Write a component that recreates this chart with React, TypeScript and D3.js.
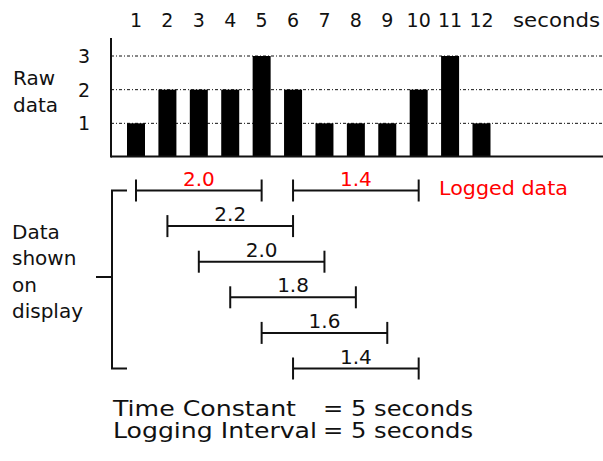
import React from 'react';
import * as d3 from 'd3';

const seconds = [1, 2, 3, 4, 5, 6, 7, 8, 9, 10, 11, 12];
const rawValues = [1, 2, 2, 2, 3, 2, 1, 1, 1, 2, 3, 1];
const yTicks = [1, 2, 3];
const loggedIntervals = [
  { start: 1, end: 5, label: '2.0' },
  { start: 6, end: 10, label: '1.4' },
];
const displayIntervals = [
  { start: 2, end: 6, label: '2.2' },
  { start: 3, end: 7, label: '2.0' },
  { start: 4, end: 8, label: '1.8' },
  { start: 5, end: 9, label: '1.6' },
  { start: 6, end: 10, label: '1.4' },
];
const unitLabel = 'seconds';
const rawLabel = ['Raw', 'data'];
const displayLabel = ['Data', 'shown', 'on', 'display'];
const loggedLabel = 'Logged data';
const footnotes = [
  ['Time Constant', '= 5 seconds'],
  ['Logging Interval', '= 5 seconds'],
];

const W = 603;
const H = 461;
const FONT = '"DejaVu Sans", Verdana, sans-serif';
const INK = '#111';
const RED = '#ff0000';

export default function App() {
  const x = d3.scaleLinear().domain([1, 12]).range([136, 481.5]);
  const y = d3.scaleLinear().domain([0, 3]).range([157, 56]);
  const row = d3.scaleLinear().domain([0, 5]).range([190.5, 368.5]);
  const barW = 18;
  const axisX = 111;
  const tickH = 11;

  const interval = (d: { start: number; end: number; label: string }, r: number, color: string, key: string) => {
    const x0 = x(d.start);
    const x1 = x(d.end);
    const yy = row(r);
    return (
      <g key={key}>
        <line x1={x0} x2={x1} y1={yy} y2={yy} stroke={INK} strokeWidth={2} />
        <line x1={x0} x2={x0} y1={yy - tickH} y2={yy + tickH} stroke={INK} strokeWidth={2} />
        <line x1={x1} x2={x1} y1={yy - tickH} y2={yy + tickH} stroke={INK} strokeWidth={2} />
        <text x={(x0 + x1) / 2} y={yy - 5} textAnchor="middle" fill={color} fontSize={20} fontFamily={FONT}>
          {d.label}
        </text>
      </g>
    );
  };

  return (
    <svg width={W} height={H} style={{ position: 'absolute', left: 0, top: 0, background: '#fff' }}>
      <rect x={0} y={0} width={W} height={H} fill="#fff" />
      {/* top second labels */}
      {seconds.map((s) => (
        <text key={'s' + s} x={x(s)} y={27} textAnchor="middle" fontSize={19} fontFamily={FONT} fill={INK}>
          {s}
        </text>
      ))}
      <text x={513} y={27} fontSize={20} fontFamily={FONT} fill={INK} textLength={87} lengthAdjust="spacingAndGlyphs">
        {unitLabel}
      </text>
      {/* gridlines */}
      {yTicks.map((t) => (
        <line key={'g' + t} x1={axisX} x2={W} y1={y(t)} y2={y(t)} stroke={INK} strokeWidth={1} strokeDasharray="3 2 1 2" />
      ))}
      {/* y labels */}
      {yTicks.map((t) => (
        <text key={'y' + t} x={84} y={y(t) + 7} textAnchor="middle" fontSize={19} fontFamily={FONT} fill={INK}>
          {t}
        </text>
      ))}
      {/* bars */}
      {rawValues.map((v, i) => (
        <rect key={'b' + i} x={x(seconds[i]) - barW / 2} y={y(v)} width={barW} height={y(0) - y(v)} fill="#000" />
      ))}
      {/* axes */}
      <line x1={axisX} x2={axisX} y1={38} y2={157.5} stroke={INK} strokeWidth={2} />
      <line x1={axisX} x2={W} y1={156.5} y2={156.5} stroke={INK} strokeWidth={2} />
      {/* raw data label */}
      {rawLabel.map((t, i) => (
        <text key={'r' + i} x={13} y={85 + i * 27} fontSize={20} fontFamily={FONT} fill={INK}>
          {t}
        </text>
      ))}
      {/* logged intervals */}
      {loggedIntervals.map((d, i) => interval(d, 0, RED, 'l' + i))}
      <text x={439} y={195} fontSize={20} fontFamily={FONT} fill={RED} textLength={129} lengthAdjust="spacingAndGlyphs">
        {loggedLabel}
      </text>
      {/* display intervals */}
      {displayIntervals.map((d, i) => interval(d, i + 1, INK, 'd' + i))}
      {/* bracket */}
      <path
        d={`M127,${row(0)} H${112} V${row(5)} H127`}
        fill="none"
        stroke={INK}
        strokeWidth={2}
      />
      <line x1={96} x2={112} y1={277} y2={277} stroke={INK} strokeWidth={2} />
      {displayLabel.map((t, i) => (
        <text key={'dl' + i} x={12} y={239 + i * 26.3} fontSize={20} fontFamily={FONT} fill={INK}>
          {t}
        </text>
      ))}
      {/* footnotes */}
      {footnotes.map((f, i) => (
        <g key={'f' + i}>
          <text x={113} y={416 + i * 22} fontSize={21} fontFamily={FONT} fill={INK}
            textLength={i === 0 ? 183 : 204} lengthAdjust="spacingAndGlyphs">
            {f[0]}
          </text>
          <text x={323} y={416 + i * 22} fontSize={21} fontFamily={FONT} fill={INK}
            textLength={150} lengthAdjust="spacingAndGlyphs">
            {f[1]}
          </text>
        </g>
      ))}
    </svg>
  );
}
